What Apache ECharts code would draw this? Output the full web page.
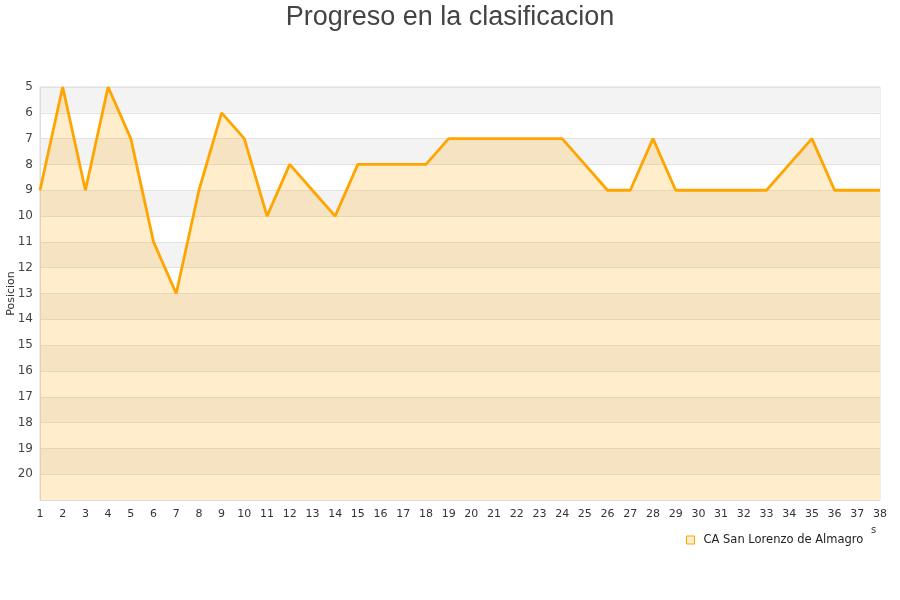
<!DOCTYPE html>
<html>
<head>
<meta charset="utf-8">
<script src="https://cdn.jsdelivr.net/npm/echarts@6/dist/echarts.min.js"></script>
<style>
  html, body { margin: 0; padding: 0; background: #fff; }
  #chart { width: 900px; height: 600px; }
</style>
</head>
<body>
<div id="chart"></div>
<script>
var jornadas = [];
for (var i = 1; i <= 38; i++) {
    jornadas.push(String(i));
}

var posiciones = [9, 5, 9, 5, 7, 11, 13, 9, 6, 7,
                  10, 8, 9, 10, 8, 8, 8, 8, 7, 7,
                  7, 7, 7, 7, 8, 9, 9, 7, 9, 9,
                  9, 9, 9, 8, 7, 9, 9, 9];

var equipo = "CA San Lorenzo de Almagro";

var option = {
    animation: false,
    title: {
        text: "Progreso en la clasificacion",
        left: "center",
        top: -1,
        textStyle: {
            fontFamily: "Liberation Sans, Arial, sans-serif",
            fontSize: 27,
            fontWeight: "normal",
            color: "#444"
        }
    },
    legend: {
        data: [{
            name: equipo,
            itemStyle: { color: "#ffedcc", borderColor: "#ffa500", borderWidth: 1 }
        }],
        left: 681,
        top: 529,
        itemWidth: 8,
        itemHeight: 8,
        itemGap: 10,
        icon: "rect",
        textStyle: {
            fontFamily: "DejaVu Sans, sans-serif",
            fontSize: 11.5,
            color: "#222",
            padding: [0, 0, 0, 4]
        }
    },
    grid: {
        left: 40,
        right: 20,
        top: 87,
        bottom: 100,
        containLabel: false,
        outerBoundsMode: "none",
        show: true,
        borderColor: "#ddd",
        borderWidth: 1
    },
    xAxis: {
        type: "category",
        data: jornadas,
        boundaryGap: false,
        axisLine: { lineStyle: { color: "#ddd" } },
        axisTick: { show: false },
        axisLabel: {
            interval: 0,
            fontFamily: "DejaVu Sans, sans-serif",
            fontSize: 11,
            color: "#333",
            margin: 9
        },
        splitLine: { show: false }
    },
    yAxis: {
        type: "value",
        inverse: true,
        min: 5,
        max: 21,
        interval: 1,
        name: "Posicion",
        nameLocation: "middle",
        nameGap: 23,
        nameMoveOverlap: false,
        nameTextStyle: {
            fontFamily: "DejaVu Sans, sans-serif",
            fontSize: 11,
            color: "#333"
        },
        axisLine: { show: true, lineStyle: { color: "#ddd" } },
        axisTick: { show: false },
        axisLabel: {
            fontFamily: "DejaVu Sans, sans-serif",
            fontSize: 12,
            color: "#444",
            margin: 7,
            formatter: function(v) {
                return v === 21 ? "" : String(v);
            }
        },
        splitLine: { show: true, lineStyle: { color: "#e2e2e2", width: 1 } },
        splitArea: { show: true, areaStyle: { color: ["#f3f3f3", "#ffffff"] } }
    },
    series: [
        {
            name: equipo,
            type: "line",
            data: posiciones,
            showSymbol: false,
            symbol: "none",
            itemStyle: { color: "#ffa500", borderColor: "#ffa500" },
            lineStyle: { color: "#ffa500", width: 2.8 },
            areaStyle: { color: "#ffa500", opacity: 0.2, origin: "end" }
        }
    ],
    graphic: [
        {
            type: "text",
            left: 871,
            top: 525,
            style: {
                text: "s",
                fontFamily: "DejaVu Sans, sans-serif",
                fontSize: 10,
                fill: "#333"
            }
        }
    ]
};

echarts.init(document.getElementById("chart")).setOption(option);
</script>
</body>
</html>
